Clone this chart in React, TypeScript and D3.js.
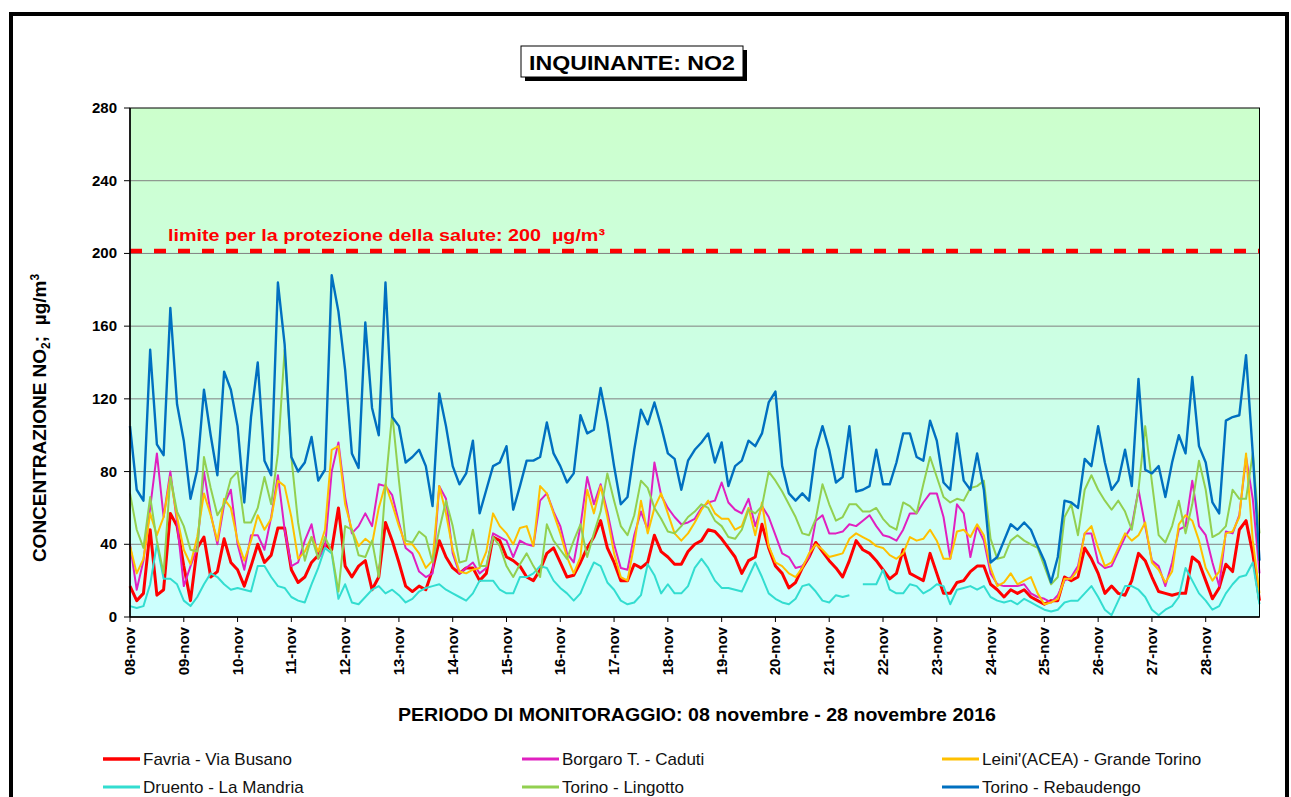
import React from "react";
import * as d3 from "d3";

// NO2 hourly readings, sampled every 3 hours (8 per day), 08-nov 00:00 .. 29-nov 00:00
const favria = [
  17, 9, 13, 48, 12, 15, 57, 50, 28, 9,
  38, 44, 22, 25, 43, 30, 26, 17, 28, 40,
  30, 34, 49, 49, 26, 19, 22, 30, 34, 40,
  37, 60, 28, 22, 28, 31, 15, 22, 52, 42,
  30, 17, 14, 17, 15, 26, 42, 33, 27, 24,
  27, 27, 20, 24, 44, 42, 33, 31, 28, 22,
  20, 26, 35, 38, 30, 22, 23, 30, 38, 44,
  53, 38, 30, 20, 20, 29, 27, 30, 45, 36,
  33, 29, 29, 36, 40, 42, 48, 47, 43, 38,
  33, 24, 31, 33, 51, 38, 28, 24, 16, 19,
  27, 33, 41, 36, 31, 27, 22, 31, 42, 37,
  35, 31, 26, 21, 24, 37, 24, 22, 20, 35,
  24, 13, 13, 19, 20, 25, 28, 28, 18, 15,
  11, 15, 13, 15, 11, 9, 7, 9, 9, 22,
  20, 22, 38, 32, 24, 13, 17, 13, 12, 20,
  35, 31, 22, 14, 13, 12, 13, 13, 33, 30,
  20, 10, 16, 29, 25, 48, 53, 35, 9,
];

const borgaro = [
  40, 15, 31, 60, 90, 55, 80, 52, 17, 28,
  38, 80, 57, 40, 62, 70, 40, 26, 45, 45,
  37, 55, 78, 48, 28, 30, 42, 51, 32, 38,
  80, 96, 66, 46, 50, 57, 50, 73, 72, 67,
  52, 38, 35, 25, 22, 24, 72, 65, 35, 24,
  27, 30, 24, 27, 46, 44, 42, 33, 42, 40,
  39, 64, 68, 58, 50, 35, 30, 50, 77, 62,
  73, 58, 40, 27, 26, 45, 58, 48, 85, 67,
  60, 55, 51, 52, 54, 60, 63, 64, 74, 63,
  59, 57, 65, 50, 61, 55, 45, 35, 33, 27,
  28, 33, 53, 56, 46, 46, 47, 51, 50, 53,
  56, 50, 45, 44, 42, 48, 57, 57, 63, 68,
  68, 55, 32, 62, 57, 33, 50, 42, 24, 18,
  17, 17, 17, 18, 13, 11, 10, 8, 12, 20,
  22, 28, 46, 46, 30, 27, 28, 36, 44, 50,
  70, 50, 31, 28, 17, 30, 48, 50, 75, 50,
  45, 30, 17, 47, 46, 56, 88, 65, 24,
];

const leini = [
  39, 24, 32, 57, 45, 55, 77, 55, 37, 29,
  44, 68, 56, 42, 65, 60, 42, 31, 42, 56,
  48, 54, 75, 72, 55, 32, 36, 44, 36, 48,
  92, 94, 62, 48, 39, 43, 40, 60, 73, 62,
  50, 40, 40, 35, 27, 31, 72, 57, 37, 25,
  24, 26, 27, 36, 57, 50, 46, 40, 49, 50,
  39, 72, 68, 57, 46, 33, 24, 33, 70, 57,
  72, 55, 35, 22, 20, 40, 64, 46, 60, 68,
  57, 46, 42, 46, 52, 59, 64, 57, 54, 54,
  48, 50, 60, 45, 63, 39, 30, 28, 24, 22,
  27, 35, 40, 37, 33, 34, 35, 43, 46, 44,
  42, 39, 38, 34, 32, 35, 44, 42, 43, 48,
  42, 32, 32, 47, 48, 44, 51, 45, 27, 17,
  19, 24, 18, 20, 22, 13, 7, 8, 10, 21,
  21, 26, 46, 50, 38, 28, 30, 38, 46, 42,
  45, 52, 30, 26, 19, 25, 51, 56, 53, 42,
  27, 20, 25, 46, 47, 55, 90, 42, 13,
];

const druento = [
  6, 5, 6, 18, 40, 21, 21, 18, 9, 6,
  11, 18, 24, 22, 18, 15, 16, 15, 14, 28,
  28, 22, 17, 16, 11, 9, 8, 18, 27, 38,
  35, 10, 18, 8, 7, 11, 15, 17, 13, 15,
  12, 8, 10, 14, 16, 17, 18, 15, 13, 11,
  9, 13, 20, 20, 20, 15, 13, 13, 22, 22,
  24, 28, 27, 20, 16, 13, 9, 13, 22, 30,
  28, 19, 15, 9, 7, 8, 12, 29, 23, 13,
  18, 13, 13, 17, 27, 32, 27, 20, 16, 16,
  15, 14, 22, 30, 22, 13, 10, 8, 7, 10,
  17, 18, 14, 9, 8, 12, 11, 12, null, 18,
  18, 18, 26, 15, 13, 13, 18, 17, 13, 15,
  18, 17, 7, 15, 16, 17, 15, 17, 11, 9,
  8, 9, 7, 10, 8, 6, 4, 3, 4, 8,
  9, 9, 13, 17, 11, 4, 1, 9, 17, 17,
  15, 11, 4, 1, 4, 6, 11, 27, 20, 13,
  9, 4, 6, 13, 18, 22, 23, 30, 7,
];

const lingotto = [
  68, 48, 38, 66, 42, 24, 77, 58, 50, 37,
  36, 88, 71, 56, 62, 76, 80, 52, 52, 60,
  77, 62, 90, 147, 88, 52, 31, 44, 32, 44,
  36, 14, 50, 48, 34, 33, 42, 22, 72, 112,
  75, 42, 41, 47, 44, 30, 48, 64, 50, 30,
  31, 48, 28, 28, 44, 39, 28, 22, 29, 35,
  28, 22, 51, 42, 37, 32, 42, 51, 33, 46,
  58, 79, 64, 50, 45, 56, 75, 71, 60, 54,
  47, 46, 50, 55, 58, 62, 60, 53, 50, 44,
  43, 48, 59, 57, 61, 80, 75, 69, 62, 55,
  46, 45, 54, 73, 62, 53, 55, 62, 62, 58,
  58, 60, 54, 50, 48, 63, 61, 57, 73, 88,
  77, 66, 63, 65, 64, 71, 72, 75, 43, 32,
  33, 42, 45, 42, 40, 38, 28, 18, 22, 55,
  62, 45, 70, 78, 70, 64, 59, 64, 58, 48,
  70, 105, 74, 45, 41, 50, 64, 46, 62, 86,
  70, 44, 46, 50, 70, 65, 65, 90, 46,
];

const rebaudengo = [
  105, 70, 64, 147, 95, 89, 170, 117, 97, 65,
  81, 125, 100, 78, 135, 125, 105, 63, 110, 140,
  86, 78, 184, 150, 88, 80, 85, 99, 75, 81,
  188, 168, 136, 90, 82, 162, 115, 100, 184, 110,
  105, 85, 88, 92, 83, 61, 123, 105, 83, 73,
  79, 97, 57, 70, 83, 85, 94, 59, 72, 86,
  86, 88, 107, 90, 83, 74, 79, 111, 101, 103,
  126, 107, 83, 62, 66, 92, 114, 106, 118, 105,
  90, 87, 70, 86, 92, 96, 101, 85, 96, 72,
  83, 86, 97, 94, 101, 118, 124, 83, 68, 64,
  68, 64, 92, 105, 92, 74, 77, 105, 69, 70,
  72, 92, 73, 73, 85, 101, 101, 88, 86, 108,
  97, 74, 70, 101, 75, 70, 90, 70, 30, 33,
  42, 51, 48, 52, 48, 39, 31, 19, 33, 64,
  63, 60, 87, 83, 105, 85, 70, 75, 92, 72,
  131, 81, 79, 83, 66, 85, 100, 90, 132, 94,
  85, 63, 57, 108, 110, 111, 144, 90, 31,
];

const seriesNames = [
  "Favria - Via Busano",
  "Borgaro T. - Caduti",
  "Leini'(ACEA) - Grande Torino",
  "Druento - La Mandria",
  "Torino - Lingotto",
  "Torino - Rebaudengo",
];
const seriesValues = [favria, borgaro, leini, druento, lingotto, rebaudengo];
const seriesColors = ["#FF0000", "#E020C0", "#FFC000", "#33DDD0", "#92D050", "#0070C0"];

const dayLabels = [
  "08-nov", "09-nov", "10-nov", "11-nov", "12-nov", "13-nov", "14-nov",
  "15-nov", "16-nov", "17-nov", "18-nov", "19-nov", "20-nov", "21-nov",
  "22-nov", "23-nov", "24-nov", "25-nov", "26-nov", "27-nov", "28-nov",
];
const yTicks = [0, 40, 80, 120, 160, 200, 240, 280];
const limitValue = 200;
const samplesPerDay = 8;

const W = 1291;
const H = 797;
const margin = { top: 108, right: 31.5, bottom: 180, left: 130 };

const font = "'Liberation Sans', Arial, sans-serif";

export default function App() {
  const x = d3
    .scaleLinear()
    .domain([0, dayLabels.length * samplesPerDay])
    .range([margin.left, W - margin.right]);
  const y = d3
    .scaleLinear()
    .domain([0, 280])
    .range([H - margin.bottom, margin.top]);

  const line = d3
    .line<number | null>()
    .defined((d) => d != null)
    .x((_, i) => x(i))
    .y((d) => y(d as number));

  const plotW = x.range()[1] - x.range()[0];
  const plotH = y.range()[0] - y.range()[1];

  // legend layout: 3 columns x 2 rows
  const legendCols = [103, 522, 942];
  const legendRows = [759, 787];

  return (
    <div style={{ position: "fixed", left: 0, top: 0 }}>
      <svg width={W} height={H} style={{ display: "block", background: "#fff" }}>
        <defs>
          <linearGradient id="bg" x1="0" y1="0" x2="0" y2="1">
            <stop offset="0%" stopColor="#CCFFCC" />
            <stop offset="100%" stopColor="#CCFFFF" />
          </linearGradient>
        </defs>

        {/* outer frame */}
        <rect x={11} y={14} width={1276} height={800} fill="none" stroke="#000" strokeWidth={4} />

        {/* title */}
        <rect x={525} y={50} width={222} height={31} fill="#000" />
        <rect x={521} y={46} width={222} height={31} fill="#fff" stroke="#000" strokeWidth={1} />
        <text
          x={632}
          y={70}
          textAnchor="middle"
          fontFamily={font}
          fontWeight="bold"
          fontSize={21}
          textLength={206}
          lengthAdjust="spacingAndGlyphs"
        >
          INQUINANTE: NO2
        </text>

        {/* plot background */}
        <rect x={margin.left} y={margin.top} width={plotW} height={plotH} fill="url(#bg)" />

        {/* gridlines */}
        {yTicks.slice(1, -1).map((t) => (
          <line key={t} x1={x.range()[0]} x2={x.range()[1]} y1={y(t)} y2={y(t)} stroke="#808080" strokeWidth={1} />
        ))}

        {/* limit */}
        <line
          x1={x.range()[0]}
          x2={x.range()[1]}
          y1={y(limitValue) - 2.5}
          y2={y(limitValue) - 2.5}
          stroke="#FF0000"
          strokeWidth={4.5}
          strokeDasharray="12 12"
        />
        <text
          x={168}
          y={241}
          fill="#FF0000"
          fontFamily={font}
          fontWeight="bold"
          fontSize={17}
          textLength={437}
          lengthAdjust="spacingAndGlyphs"
        >
          {"limite per la protezione della salute: 200\u00a0 µg/m³"}
        </text>

        {/* series */}
        {seriesValues.map((vals, i) => (
          <path
            key={seriesNames[i]}
            d={line(vals) || ""}
            fill="none"
            stroke={seriesColors[i]}
            strokeWidth={i === 0 ? 3 : i === 5 ? 2.4 : 2}
            strokeLinejoin="round"
          />
        ))}

        {/* plot border */}
        <rect x={margin.left} y={margin.top} width={plotW} height={plotH} fill="none" stroke="#000" strokeWidth={1} />
        <line x1={margin.left} x2={margin.left} y1={margin.top} y2={y(0)} stroke="#000" strokeWidth={1.5} />
        <line x1={margin.left} x2={x.range()[1]} y1={y(0)} y2={y(0)} stroke="#000" strokeWidth={1.5} />

        {/* y axis */}
        {yTicks.map((t) => (
          <g key={t}>
            <line x1={margin.left - 6} x2={margin.left} y1={y(t)} y2={y(t)} stroke="#000" />
            <text
              x={margin.left - 13}
              y={y(t) + 5}
              textAnchor="end"
              fontFamily={font}
              fontWeight="bold"
              fontSize={15}
            >
              {t}
            </text>
          </g>
        ))}

        {/* x axis */}
        {dayLabels.map((lab, i) => {
          const px = x(i * samplesPerDay);
          return (
            <g key={lab}>
              <line x1={px} x2={px} y1={y(0)} y2={y(0) + 5} stroke="#000" />
              <text
                transform={`translate(${px + 5},${y(0) + 10}) rotate(-90)`}
                textAnchor="end"
                fontFamily={font}
                fontWeight="bold"
                fontSize={15}
              >
                {lab}
              </text>
            </g>
          );
        })}

        {/* axis titles */}
        <text
          x={697}
          y={721}
          textAnchor="middle"
          fontFamily={font}
          fontWeight="bold"
          fontSize={18}
          textLength={598}
          lengthAdjust="spacingAndGlyphs"
        >
          PERIODO DI MONITORAGGIO: 08 novembre - 28 novembre 2016
        </text>
        <text
          transform="translate(46,418) rotate(-90)"
          textAnchor="middle"
          fontFamily={font}
          fontWeight="bold"
          fontSize={19}
        >
          CONCENTRAZIONE NO
          <tspan fontSize={12} dy={4}>2</tspan>
          <tspan dy={-4}>{";\u00a0 µg/m"}</tspan>
          <tspan fontSize={12} dy={-7}>3</tspan>
        </text>

        {/* legend */}
        {seriesNames.map((name, i) => {
          const lx = legendCols[i % 3];
          const ly = legendRows[Math.floor(i / 3)];
          return (
            <g key={name}>
              <line x1={lx} x2={lx + 37} y1={ly} y2={ly} stroke={seriesColors[i]} strokeWidth={i === 0 ? 3.5 : 3} />
              <text x={lx + 40} y={ly + 6} fontFamily={font} fontSize={17} fill="#111">
                {name}
              </text>
            </g>
          );
        })}
      </svg>
    </div>
  );
}
